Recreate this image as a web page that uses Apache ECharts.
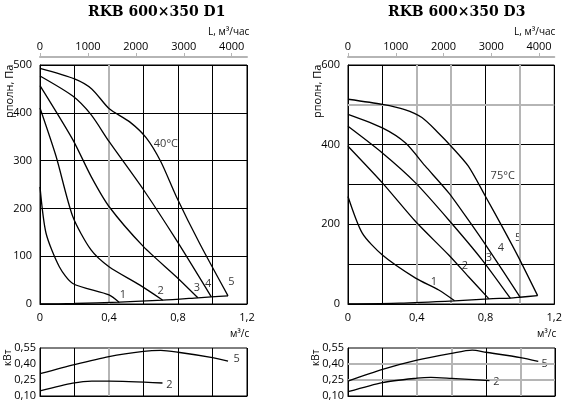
<!DOCTYPE html>
<html><head><meta charset="utf-8">
<script src="https://cdn.jsdelivr.net/npm/echarts@6/dist/echarts.min.js"></script>
<style>html,body{margin:0;padding:0;background:#fff}#c{width:565px;height:411px}</style>
</head><body><div id="c"></div>
<script>
// Left chart (D1, 40°C): pressure curves [m3/s, Pa]
const L1 = [[0,245],[0.035,148],[0.112,78],[0.19,43],[0.4,19],[0.46,3]];
const L2 = [[0,410],[0.093,309],[0.19,183],[0.296,113],[0.4,78],[0.577,40],[0.712,8]];
const L3 = [[0,457],[0.19,344],[0.296,267],[0.4,204],[0.6,120],[0.79,57],[0.915,13]];
const L4 = [[0,477],[0.19,435],[0.296,396],[0.4,340],[0.6,239],[0.79,134],[0.993,15]];
const L5 = [[0,493],[0.2,471],[0.3,450],[0.4,409],[0.52,381],[0.615,348],[0.7,298],[0.79,225],[0.925,127],[1.09,17]];
const Lsys = [[0,0],[0.2,1],[0.46,4],[0.712,8],[0.915,13],[0.993,15],[1.09,17]];
const Lpow5 = [[0,0.31],[0.2,0.395],[0.4,0.47],[0.6,0.518],[0.7,0.527],[0.8,0.51],[1.0,0.46],[1.09,0.428]];
const Lpow2 = [[0,0.148],[0.19,0.22],[0.3,0.24],[0.4,0.24],[0.71,0.222]];
const Llabels = [['1',0.48,20],['2',0.70,28],['3',0.91,34],['4',0.975,42],['5',1.11,47],['40°C',0.73,336]];
const LpowLabels = [['5',1.14,0.445],['2',0.75,0.2]];
// Right chart (D3, 75°C)
const R1 = [[0,270],[0.083,178],[0.2,123],[0.393,65],[0.528,35],[0.62,8]];
const R2 = [[0,396],[0.2,304],[0.393,207],[0.586,123],[0.70,69],[0.82,13]];
const R3 = [[0,446],[0.2,379],[0.393,304],[0.586,211],[0.78,111],[0.945,14]];
const R4 = [[0,476],[0.2,442],[0.335,404],[0.45,346],[0.586,279],[0.70,211],[0.82,136],[1.0,18]];
const R5 = [[0,514],[0.2,501],[0.33,488],[0.43,468],[0.52,432],[0.6,396],[0.70,346],[0.8,270],[0.896,195],[0.99,119],[1.103,21]];
const Rsys = [[0,0],[0.3,2],[0.62,8],[0.82,13],[0.945,15],[1.0,17],[1.103,21]];
const Rpow5 = [[0,0.24],[0.2,0.35],[0.4,0.437],[0.6,0.50],[0.72,0.53],[0.8,0.51],[1.0,0.46],[1.103,0.424]];
const Rpow2 = [[0,0.14],[0.2,0.226],[0.4,0.267],[0.48,0.275],[0.6,0.265],[0.82,0.244]];
const Rlabels = [['1',0.5,55],['2',0.68,97],['3',0.82,117],['4',0.89,142],['5',0.99,165],['75°C',0.9,322]];
const RpowLabels = [['5',1.14,0.40],['2',0.86,0.23]];
const titles = ['RKB 600×350 D1','RKB 600×350 D3'];
// grey highlighted grid lines
const LgrayX = [0.4];
const RgrayX = [0.4, 0.6, 1.0];
const RgrayY = [500];
const RpowGrayY = [0.25, 0.40];

const F = 'Open Sans';
const K = '#000', G = '#b5b5b5';
const chart = echarts.init(document.getElementById('c'));
const grids = [
  {left:40,width:207,top:65,height:239},
  {left:40,width:207,top:348,height:48},
  {left:348,width:207,top:65,height:239},
  {left:348,width:207,top:348,height:48}
];
function xMain(gi){
  return {type:'value',gridIndex:gi,min:0,max:1.2,interval:0.2,position:'bottom',
    axisLine:{lineStyle:{color:K}},axisTick:{show:false},
    axisLabel:{color:K,fontFamily:F,fontSize:11,margin:8,formatter:v=>{const r=Math.round(v*10)/10;return Math.round(r*10)%4===0?String(r).replace('.',','):''}},
    splitLine:{show:true,lineStyle:{color:K,width:1}}};
}
function xTop(gi){
  return {type:'value',gridIndex:gi,min:0,max:4320,interval:1000,position:'top',offset:8,
    axisLine:{lineStyle:{color:G,width:2}},axisTick:{show:true,length:4,lineStyle:{color:G}},
    axisLabel:{color:K,fontFamily:F,fontSize:11,margin:5,formatter:v=>String(v)},splitLine:{show:false}};
}
function xPow(gi){
  return {type:'value',gridIndex:gi,min:0,max:1.2,interval:0.2,
    axisLine:{lineStyle:{color:K}},axisTick:{show:false},axisLabel:{show:false},
    splitLine:{show:true,lineStyle:{color:K}}};
}
function yMain(gi,max){
  return {type:'value',gridIndex:gi,min:0,max:max,interval:100,
    axisLine:{show:true,lineStyle:{color:K}},axisTick:{show:false},
    axisLabel:{color:K,fontFamily:F,fontSize:11,margin:8,formatter:v=>(v%(max===500?100:200)===0?v:'')},
    splitLine:{show:true,lineStyle:{color:K}}};
}
function yPow(gi){
  return {type:'value',gridIndex:gi,min:0.10,max:0.55,interval:0.15,
    axisLine:{show:true,lineStyle:{color:K}},axisTick:{show:false},
    axisLabel:{color:K,fontFamily:F,fontSize:11,margin:4,formatter:v=>v.toFixed(2).replace('.',',')},
    splitLine:{show:false}};
}
const xAxis = [xMain(0), xPow(1), xMain(2), xPow(3), xTop(0), xTop(2)];
const yAxis = [yMain(0,500), yPow(1), yMain(2,600), yPow(3)];
const series = [];
function line(d,xi,yi){series.push({type:'line',data:d,xAxisIndex:xi,yAxisIndex:yi,smooth:0.25,symbol:'none',lineStyle:{color:K,width:1.3},silent:true,z:5});}
function labels(arr,xi,yi){series.push({type:'scatter',xAxisIndex:xi,yAxisIndex:yi,symbolSize:0,silent:true,
  data:arr.map(a=>({name:a[0],value:[a[1],a[2]]})),
  label:{show:true,position:'inside',formatter:'{b}',color:K,fontFamily:F,fontSize:11}});}
function grayLines(xs,ys,xi,yi){series.push({type:'line',data:[],xAxisIndex:xi,yAxisIndex:yi,silent:true,z:3,
  markLine:{silent:true,symbol:'none',label:{show:false},lineStyle:{color:G,type:'solid',width:2},
    data:xs.map(v=>({xAxis:v})).concat(ys.map(v=>({yAxis:v})))}});}
grayLines(LgrayX,[],0,0); grayLines(LgrayX,[],1,1);
grayLines(RgrayX,RgrayY,2,2); grayLines(RgrayX,RpowGrayY,3,3);
[L1,L2,L3,L4,L5].forEach(d=>line(d,0,0)); line(Lsys,0,0);
line(Lpow5,1,1); line(Lpow2,1,1); labels(Llabels,0,0); labels(LpowLabels,1,1);
[R1,R2,R3,R4,R5].forEach(d=>line(d,2,2)); line(Rsys,2,2);
line(Rpow5,3,3); line(Rpow2,3,3); labels(Rlabels,2,2); labels(RpowLabels,3,3);

const T = (x,y,t,font,rot)=>({type:'text',x:x,y:y,rotation:rot||0,style:{text:t,fill:K,font:font}});
const graphic = [
  T(88,5,titles[0],'bold 14px "DejaVu Serif"'),
  T(388,5,titles[1],'bold 14px "DejaVu Serif"'),
  T(208,27,'L, м³/час','10px "Open Sans"'),
  T(514,27,'L, м³/час','10px "Open Sans"'),
  T(4,118,'pполн, Па','11px "Open Sans"',Math.PI/2),
  T(312,118,'pполн, Па','11px "Open Sans"',Math.PI/2),
  T(3,366,'кВт','10px "Open Sans"',Math.PI/2),
  T(311,366,'кВт','10px "Open Sans"',Math.PI/2),
  T(230,329,'м³/с','10px "Open Sans"'),
  T(537,329,'м³/с','10px "Open Sans"')
];
chart.setOption({animation:false,
  grid:grids.map(g=>Object.assign({show:true,borderColor:K,borderWidth:1},g)),
  xAxis, yAxis, series, graphic});
</script></body></html>
